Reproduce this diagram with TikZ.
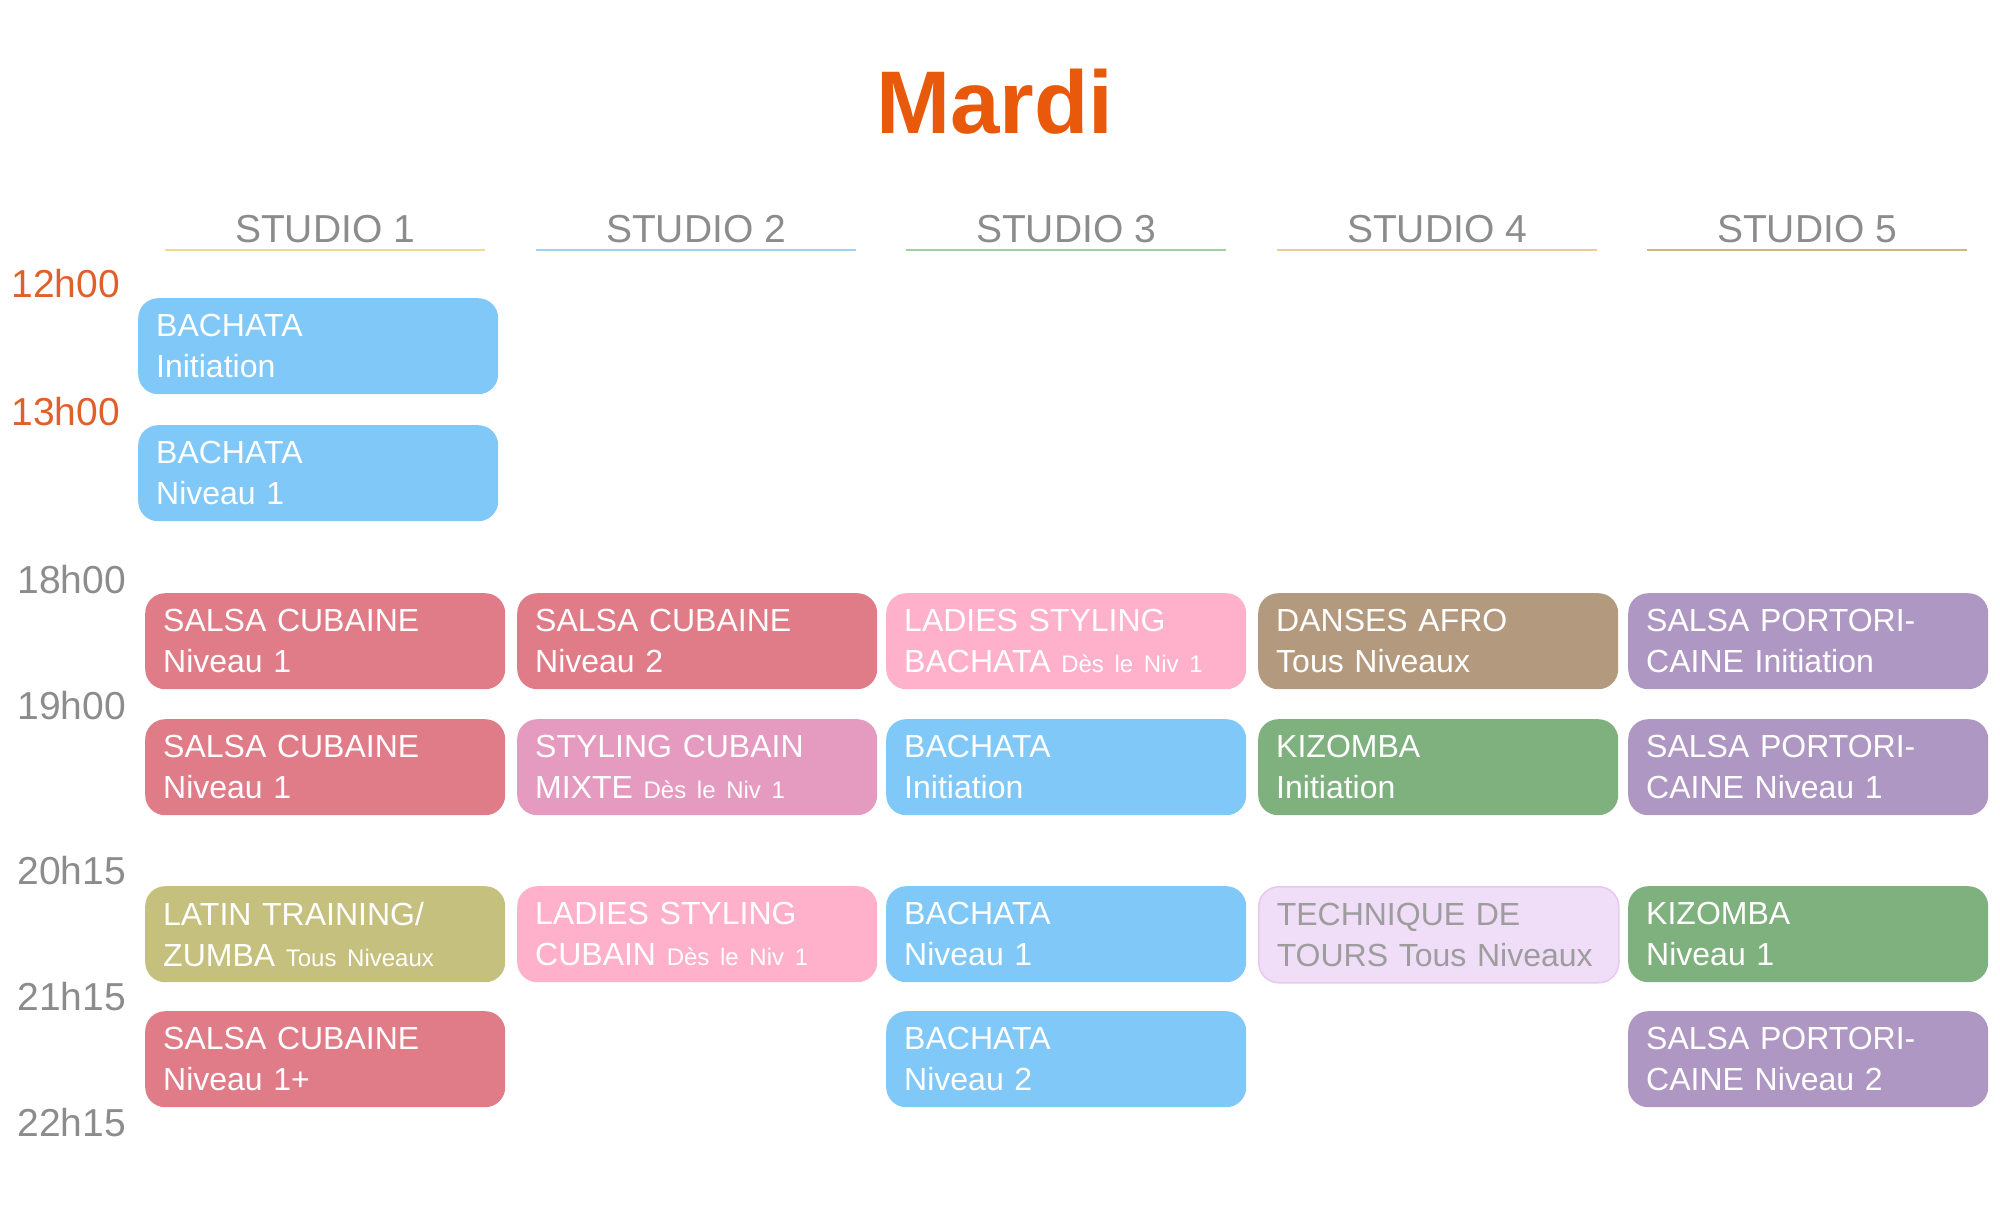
\documentclass[tikz,border=0pt]{standalone}
\usepackage{fontspec}
\setmainfont{Liberation Sans}
\definecolor{titleorange}{HTML}{E8590C}
\definecolor{hourorange}{HTML}{E0602A}
\definecolor{hourgrey}{HTML}{8C8C8C}
\definecolor{bachblue}{HTML}{7FC8F8}
\definecolor{salsared}{HTML}{E07B88}
\definecolor{ladypink}{HTML}{FFB0CA}
\definecolor{mixtepink}{HTML}{E59AC0}
\definecolor{afrobrown}{HTML}{B39A7E}
\definecolor{portopurple}{HTML}{AF97C3}
\definecolor{kizgreen}{HTML}{7FB17E}
\definecolor{zumbaolive}{HTML}{C5C07E}
\definecolor{tourlav}{HTML}{F0DDF8}
\definecolor{tourline}{HTML}{E8C8F0}
\definecolor{lineA}{HTML}{F5D98A}
\definecolor{lineB}{HTML}{9DD2F0}
\definecolor{lineC}{HTML}{9BD49A}
\definecolor{lineD}{HTML}{F0C9A0}
\definecolor{lineE}{HTML}{D4B67A}
\tikzset{
  classbox/.style={rounded corners=20pt, anchor=north west, minimum width=360pt,
    minimum height=96pt, text width=324pt, inner xsep=18pt, inner ysep=0pt,
    align=left, text=white, font=\fontsize{32}{41}\selectfont},
  hourlabel/.style={anchor=base west, font=\fontsize{39}{39}\selectfont},
  studiohead/.style={anchor=base, text=hourgrey, font=\fontsize{39}{39}\selectfont}
}
\newcommand{\levelnote}{\fontsize{24}{41}\selectfont}
\newcommand{\danceclass}[6]{%
  \node[classbox, fill=#4] (#1) at (#2,#3) {#5\\#6};}

\begin{document}
\begin{tikzpicture}[x=1pt,y=-1pt]
\useasboundingbox (0,0) rectangle (2000,1212);
% title
\node[anchor=base, text=titleorange, font=\fontsize{89}{89}\selectfont\bfseries] (title) at (995,134) {Mardi};
% studio headers
\foreach \n/\cx/\col in {1/325/lineA,2/696/lineB,3/1066/lineC,4/1437/lineD,5/1807/lineE}{
  \node[studiohead] (studio\n) at (\cx,242) {STUDIO \n};
  \draw[\col, line width=2.5pt] (\cx-160,250) -- (\cx+160,250);
}
% hours
\node[hourlabel, text=hourorange] (h12) at (8,297) {12h00};
\node[hourlabel, text=hourorange] (h13) at (8,425) {13h00};
\foreach \h/\y in {18h00/593,19h00/719,20h15/884,21h15/1010,22h15/1136}{
  \node[hourlabel, text=hourgrey] (h\h) at (14,\y) {\h};
}
% midday
\danceclass{bachA}{138}{298}{bachblue}{BACHATA}{Initiation}
\danceclass{bachB}{138}{425}{bachblue}{BACHATA}{Niveau 1}
% 18h00
\danceclass{s1a}{145}{593}{salsared}{SALSA CUBAINE}{Niveau 1}
\danceclass{s2a}{517}{593}{salsared}{SALSA CUBAINE}{Niveau 2}
\danceclass{s3a}{886}{593}{ladypink}{LADIES STYLING}{BACHATA {\levelnote Dès le Niv 1}}
\danceclass{s4a}{1258}{593}{afrobrown}{DANSES AFRO}{Tous Niveaux}
\danceclass{s5a}{1628}{593}{portopurple}{SALSA PORTORI-}{CAINE Initiation}
% 19h00
\danceclass{s1b}{145}{719}{salsared}{SALSA CUBAINE}{Niveau 1}
\danceclass{s2b}{517}{719}{mixtepink}{STYLING CUBAIN}{MIXTE {\levelnote Dès le Niv 1}}
\danceclass{s3b}{886}{719}{bachblue}{BACHATA}{Initiation}
\danceclass{s4b}{1258}{719}{kizgreen}{KIZOMBA}{Initiation}
\danceclass{s5b}{1628}{719}{portopurple}{SALSA PORTORI-}{CAINE Niveau 1}
% 20h15
\danceclass{s1c}{145}{886}{zumbaolive}{LATIN TRAINING/}{ZUMBA {\levelnote Tous Niveaux}}
\danceclass{s2c}{517}{886}{ladypink}{LADIES STYLING}{CUBAIN {\levelnote Dès le Niv 1}}
\danceclass{s3c}{886}{886}{bachblue}{BACHATA}{Niveau 1}
\node[classbox, fill=tourlav, draw=tourline, line width=1.5pt, text=hourgrey!85] (s4c) at (1258,886) {TECHNIQUE DE\\TOURS Tous Niveaux};
\danceclass{s5c}{1628}{886}{kizgreen}{KIZOMBA}{Niveau 1}
% 21h15
\danceclass{s1d}{145}{1011}{salsared}{SALSA CUBAINE}{Niveau 1+}
\danceclass{s3d}{886}{1011}{bachblue}{BACHATA}{Niveau 2}
\danceclass{s5d}{1628}{1011}{portopurple}{SALSA PORTORI-}{CAINE Niveau 2}
\end{tikzpicture}
\end{document}
